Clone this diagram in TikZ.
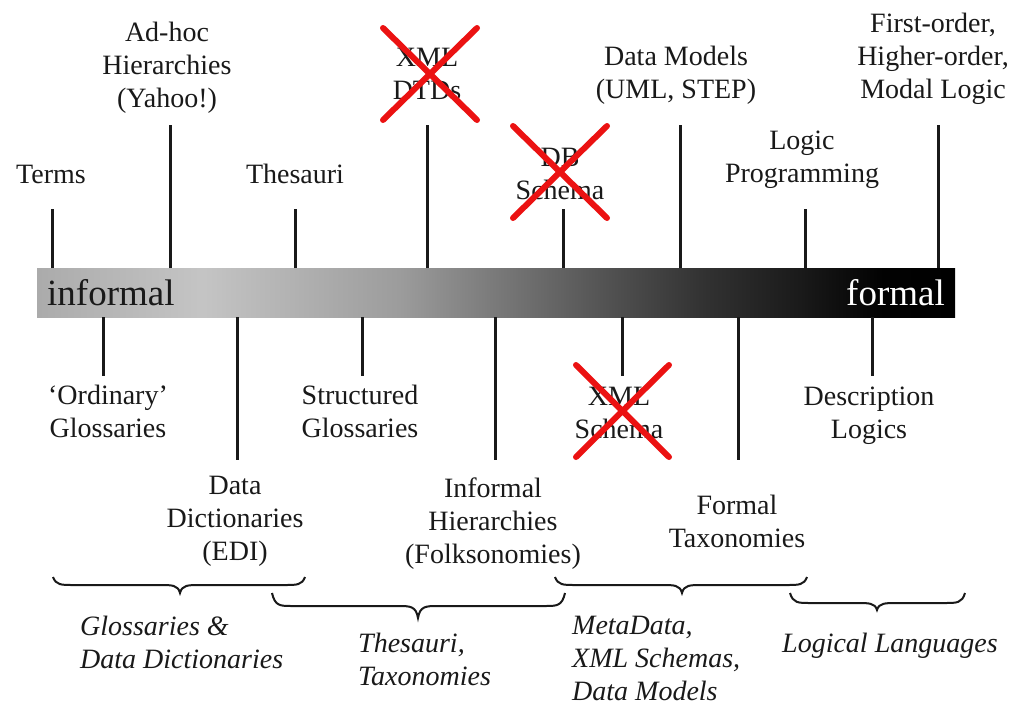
\documentclass[tikz,border=0pt]{standalone}
\usepackage{fontspec}
\setmainfont{Liberation Serif}
\pgfdeclarehorizontalshading{barshade}{100bp}{color(0bp)=(black!33); color(25bp)=(black!33); color(34bp)=(black!23); color(44.8bp)=(black!39); color(50.2bp)=(black!53); color(55.7bp)=(black!67); color(61.1bp)=(black!80); color(66.6bp)=(black!90); color(70.9bp)=(black!99); color(75bp)=(black); color(100bp)=(black)}
\definecolor{xred}{RGB}{235,18,18}
\definecolor{ink}{RGB}{25,25,25}
\newcommand{\mybrace}[6]{%
  \draw[bracestyle] (#1,#4) .. controls ({#1+3},{#4+#5}) and ({#1+8},{#4+#5}) .. ({#1+20},{#4+#5})
    -- ({#3-20},{#4+#5}) .. controls ({#3-8},{#4+#5}) and ({#3-2},{#4+#5}) .. (#3,{#4+#6})
    .. controls ({#3+2},{#4+#5}) and ({#3+8},{#4+#5}) .. ({#3+20},{#4+#5})
    -- ({#2-20},{#4+#5}) .. controls ({#2-8},{#4+#5}) and ({#2-3},{#4+#5}) .. (#2,#4);}
\begin{document}
\begin{tikzpicture}[x=1pt,y=-1pt,
  lbl/.style={align=center, anchor=base, inner sep=0pt, text=ink, font=\fontsize{28}{33}\selectfont},
  cat/.style={align=left, anchor=base west, inner sep=0pt, text=ink, font=\fontsize{28}{33}\selectfont\itshape},
  tick/.style={line width=3pt, draw=ink},
  bracestyle/.style={line width=2pt, draw=ink},
  crossout/.style={draw=xred, line width=6pt, line cap=round},
  barnode/.style={shading=barshade, draw=none, inner sep=0pt, minimum width=918pt, minimum height=49pt, anchor=north west}]
\useasboundingbox (0,0) rectangle (1010,705);
% bar
\node[barnode] (bar) at (37,268) {};
\node[anchor=base west, inner sep=0pt, text=ink, font=\fontsize{37}{40}\selectfont] (informal) at (47,305) {informal};
\node[anchor=base east, inner sep=0pt, text=white, font=\fontsize{37}{40}\selectfont] (formal) at (945,305) {formal};
% top labels (anchor = baseline of last line)
\node[lbl] (terms) at (51,183) {Terms};
\node[lbl] (adhoc) at (167,107) {Ad-hoc\\Hierarchies\\(Yahoo!)};
\node[lbl] (thes) at (295,183) {Thesauri};
\node[lbl] (dtd) at (427,99) {XML\\DTDs};
\node[lbl] (dbs) at (560,199) {DB\\Schema};
\node[lbl] (dm) at (676,98) {Data Models\\(UML, STEP)};
\node[lbl] (lp) at (802,182) {Logic\\Programming};
\node[lbl] (fo) at (933,98) {First-order,\\Higher-order,\\Modal Logic};
% bottom labels
\node[lbl] (ord) at (108,437) {‘Ordinary’\\Glossaries};
\node[lbl] (dd) at (235,560) {Data\\Dictionaries\\(EDI)};
\node[lbl] (sg) at (360,437) {Structured\\Glossaries};
\node[lbl] (ih) at (493,563) {Informal\\Hierarchies\\(Folksonomies)};
\node[lbl] (xs) at (619,438) {XML\\Schema};
\node[lbl] (ft) at (737,547) {Formal\\Taxonomies};
\node[lbl] (dl) at (869,438) {Description\\Logics};
% tick end coordinates
\coordinate (tterms) at (52,209);
\coordinate (tadhoc) at (170,125);
\coordinate (tthes) at (295,209);
\coordinate (tdtd) at (427,125);
\coordinate (tdbs) at (563,209);
\coordinate (tdm) at (680,125);
\coordinate (tlp) at (805,209);
\coordinate (tfo) at (938,125);
\coordinate (bord) at (103,376);
\coordinate (bdd) at (237,460);
\coordinate (bsg) at (362,376);
\coordinate (bih) at (495,460);
\coordinate (bxs) at (622,376);
\coordinate (bft) at (738,460);
\coordinate (bdl) at (872,376);
\foreach \c in {tterms,tadhoc,tthes,tdtd,tdbs,tdm,tlp,tfo}
  \draw[tick] (bar.north -| \c) -- (\c);
\foreach \c in {bord,bdd,bsg,bih,bxs,bft,bdl}
  \draw[tick] (bar.south -| \c) -- (\c);
% braces
\mybrace{53}{305}{180}{577}{8}{16}
\mybrace{272}{565}{418}{593}{13}{25}
\mybrace{555}{807}{682}{577}{8}{16}
\mybrace{790}{965}{877}{593}{10}{17}
% category labels
\node[cat] (c1) at (80,668) {Glossaries \&\\Data Dictionaries};
\node[cat] (c2) at (358,685) {Thesauri,\\Taxonomies};
\node[cat] (c3) at (572,700) {MetaData,\\XML Schemas,\\Data Models};
\node[cat] (c4) at (782,652) {Logical Languages};
% crosses
\draw[crossout] (383,28) -- (477,120) (383,120) -- (477,28);
\draw[crossout] (513,126) -- (607,218) (513,218) -- (607,126);
\draw[crossout] (576,365) -- (669,457) (576,457) -- (669,365);
\end{tikzpicture}
\end{document}
